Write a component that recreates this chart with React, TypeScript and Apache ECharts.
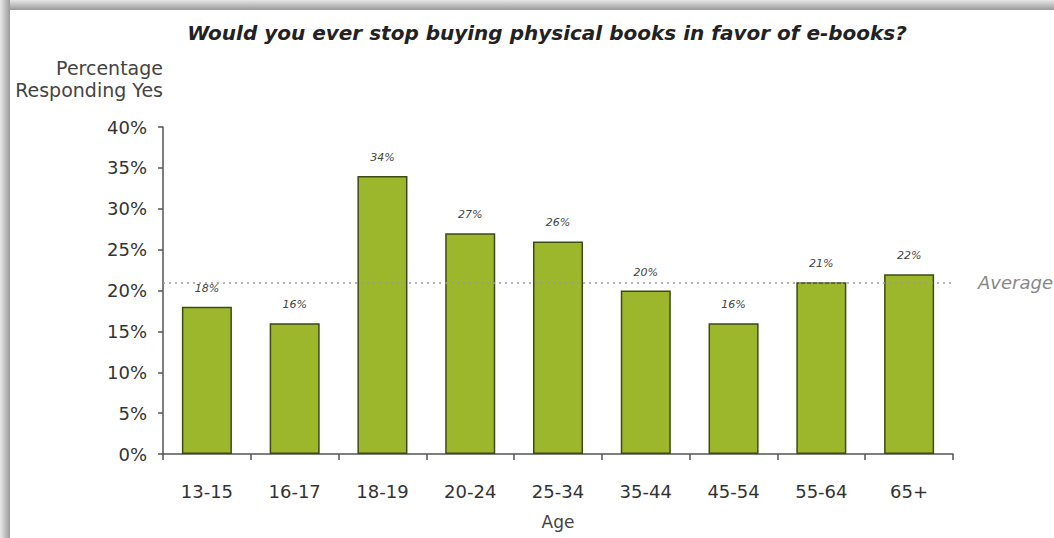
import React, { useEffect, useRef } from "react";
import * as echarts from "echarts";

const categories = ["13-15", "16-17", "18-19", "20-24", "25-34", "35-44", "45-54", "55-64", "65+"];
const values = [18, 16, 34, 27, 26, 20, 16, 21, 22];
const averageValue = 21;
const yTicks = { min: 0, max: 40, interval: 5 };
const titleText = "Would you ever stop buying physical books in favor of e-books?";
const yAxisTitle = "Percentage\nResponding Yes";
const xAxisTitle = "Age";
const averageLabel = "Average";

const FONT = "'DejaVu Sans', 'Open Sans', sans-serif";

export default function App() {
  const ref = useRef<HTMLDivElement>(null);
  useEffect(() => {
    if (!ref.current) return;
    const chart = echarts.init(ref.current, undefined, { renderer: "svg" });
    chart.setOption({
      animation: false,
      backgroundColor: "#ffffff",
      textStyle: { fontFamily: FONT },
      grid: { left: 163, right: 101, top: 127, bottom: 84, containLabel: false },
      graphic: [
        {
          type: "rect",
          shape: { x: 0, y: 0, width: 1054, height: 10 },
          style: {
            fill: new echarts.graphic.LinearGradient(0, 0, 0, 1, [
              { offset: 0, color: "#e6e6e6" },
              { offset: 1, color: "#9a9a9a" },
            ]),
          },
          z: 100,
        },
        {
          type: "rect",
          shape: { x: 0, y: 0, width: 10, height: 538 },
          style: {
            fill: new echarts.graphic.LinearGradient(0, 0, 1, 0, [
              { offset: 0, color: "#e8e8e8" },
              { offset: 1, color: "#9a9a9a" },
            ]),
          },
          z: 100,
        },
        {
          type: "text",
          x: 547,
          y: 33,
          style: {
            text: titleText,
            fontFamily: FONT,
            fontSize: 20,
            fontWeight: "bold",
            fontStyle: "italic",
            fill: "#222",
            textAlign: "center",
            textVerticalAlign: "middle",
          },
        },
        {
          type: "text",
          x: 163,
          y: 57,
          style: {
            text: yAxisTitle,
            fontFamily: FONT,
            fontSize: 19,
            lineHeight: 22,
            fill: "#444",
            textAlign: "right",
            textVerticalAlign: "top",
          },
        },
      ],
      xAxis: {
        type: "category",
        data: categories,
        boundaryGap: true,
        name: xAxisTitle,
        nameLocation: "middle",
        nameGap: 59,
        nameTextStyle: { fontSize: 17, color: "#444", fontFamily: FONT },
        axisLine: { show: true, lineStyle: { color: "#555", width: 1.5 } },
        axisTick: { show: true, alignWithLabel: false, length: 6, lineStyle: { color: "#555", width: 1.5 } },
        axisLabel: { fontSize: 18, color: "#333", margin: 28, fontFamily: FONT },
        splitLine: { show: false },
      },
      yAxis: {
        type: "value",
        min: yTicks.min,
        max: yTicks.max,
        interval: yTicks.interval,
        axisLine: { show: true, lineStyle: { color: "#555", width: 1.5 } },
        axisTick: { show: true, inside: false, length: 5, lineStyle: { color: "#555", width: 1.5 } },
        axisLabel: { fontSize: 18, color: "#333", margin: 16, formatter: "{value}%", fontFamily: FONT },
        splitLine: { show: false },
      },
      series: [
        {
          type: "bar",
          data: values,
          barWidth: "57%",
          itemStyle: { color: "#9cb72c", borderColor: "#3e4a14", borderWidth: 1.5 },
          label: {
            show: true,
            position: "top",
            distance: 13,
            formatter: "{c}%",
            fontSize: 11,
            fontStyle: "italic",
            color: "#444",
            fontFamily: FONT,
          },
          markLine: {
            silent: true,
            symbol: ["none", "none"],
            lineStyle: { color: "#9a9a9a", type: [2, 4], width: 1.5 },
            label: {
              show: true,
              position: "end",
              distance: 25,
              formatter: averageLabel,
              fontSize: 18,
              fontStyle: "italic",
              color: "#888",
              fontFamily: FONT,
            },
            data: [{ yAxis: averageValue }],
          },
        },
      ],
    });
    return () => chart.dispose();
  }, []);
  return (
    <div
      ref={ref}
      style={{ position: "fixed", left: 0, top: 0, width: 1054, height: 538, background: "#fff" }}
    />
  );
}
